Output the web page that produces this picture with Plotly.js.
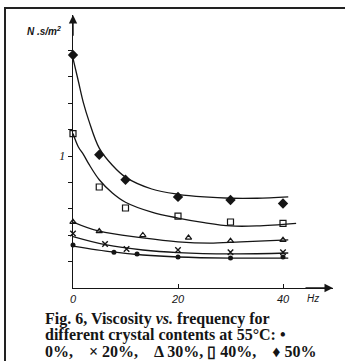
<!DOCTYPE html>
<html>
<head>
<meta charset="utf-8">
<script src="https://cdn.plot.ly/plotly-3.0.1.min.js"></script>
<style>
  html, body { margin:0; padding:0; background:#fff; width:345px; height:361px; overflow:hidden; }
  #chart { position:absolute; left:0; top:0; width:345px; height:361px; }
  #frame { position:absolute; left:4px; top:7px; width:400px; height:400px;
           border-top:2px solid #222; border-left:2px solid #222; pointer-events:none; }
</style>
</head>
<body>
<div id="chart"></div>
<div id="frame"></div>
<script>
// ---- measured data (frequency in Hz, viscosity in N.s/m^2) ----
const freq0  = [0, 7.8, 12.2, 20, 30, 40];
const visc0  = [0.326, 0.27, 0.257, 0.235, 0.227, 0.235];
const freq20 = [0, 6.1, 10.2, 20, 30, 40];
const visc20 = [0.413, 0.333, 0.295, 0.288, 0.27, 0.27];
const freq30 = [0, 5, 13.3, 22, 30, 40];
const visc30 = [0.50, 0.43, 0.40, 0.38, 0.356, 0.364];
const freq40 = [0, 5, 10, 20, 30, 40];
const visc40 = [1.17, 0.765, 0.606, 0.545, 0.50, 0.49];
const freq50 = [0, 5, 10, 20, 30, 40];
const visc50 = [1.765, 1.01, 0.82, 0.69, 0.667, 0.64];

// ---- fitted curves as drawn in the figure ----
const fit0x  = [0, 7.6, 13.3, 20, 30, 41];
const fit0y  = [0.318, 0.273, 0.25, 0.235, 0.227, 0.227];
const fit20x = [0, 6.4, 13.3, 20, 30, 41];
const fit20y = [0.39, 0.326, 0.288, 0.268, 0.258, 0.265];
const fit30x = [0, 5, 13.3, 20, 26, 32, 41];
const fit30y = [0.50, 0.43, 0.38, 0.35, 0.34, 0.35, 0.364];
const fit40x = [0, 1, 2, 3, 5, 7.5, 10, 15, 20, 25, 30, 35, 42.5];
const fit40y = [1.17, 1.07, 1.01, 0.94, 0.82, 0.72, 0.65, 0.575, 0.53, 0.495, 0.47, 0.47, 0.49];
const fit50x = [0, 1, 2, 3, 5, 7.5, 10, 15, 20, 25, 30, 35, 41];
const fit50y = [1.74, 1.57, 1.40, 1.27, 1.06, 0.93, 0.84, 0.75, 0.71, 0.69, 0.68, 0.68, 0.69];

// ---- tick labels ----
const xTickVals = [0, 20, 40];
const xTickText = ['0', '20', '40'];
const yTickVals = [0.2, 0.4, 0.6, 0.8, 1.0, 1.2, 1.4, 1.6, 1.8];
const yTickText = ['', '', '', '', '1', '', '', '', ''];

const captionLines = [
  '<b>Fig. 6, Viscosity <i>vs.</i> frequency for</b>',
  '<b>different crystal contents at 55°C: •</b>',
  '<b>0%, &nbsp;&nbsp;&nbsp;× 20%, &nbsp;&nbsp;&nbsp;Δ 30%, ▯ 40%, &nbsp;&nbsp;&nbsp;♦ 50%</b>'
];

const INK = '#151515';
const W = 345, H = 361;
const M = {l:73, r:12, t:15, b:73};
const PW = W - M.l - M.r, PH = H - M.t - M.b;
const px2x = p => (p - M.l) / PW;
const py2y = p => (H - M.b - p) / PH;

const lineTrace = (x, y) => ({x, y, mode:'lines', type:'scatter', hoverinfo:'skip',
  line:{color:INK, width:1.3, shape:'spline', smoothing:1}, showlegend:false});
const markTrace = (x, y, sym, size, lw) => ({x, y, mode:'markers', type:'scatter',
  marker:{symbol:sym, size:size, color:INK, line:{color:INK, width:lw}}, showlegend:false, cliponaxis:false});

const data = [
  lineTrace(fit0x, fit0y), lineTrace(fit20x, fit20y), lineTrace(fit30x, fit30y),
  lineTrace(fit40x, fit40y), lineTrace(fit50x, fit50y),
  markTrace(freq0, visc0, 'circle', 5, 0),
  markTrace(freq20, visc20, 'x-thin', 5.5, 1.4),
  markTrace(freq30, visc30, 'triangle-up-open', 5.5, 1.2),
  markTrace(freq40, visc40, 'square-open', 6, 1.2),
  markTrace(freq50, visc50, 'diamond', 8, 0)
];

const annotations = [
  // axis arrowheads
  {x:49.5, y:0, ax:44, ay:0, xref:'x', yref:'y', axref:'x', ayref:'y', text:'', showarrow:true,
   arrowhead:2, arrowsize:1.2, arrowwidth:1.4, arrowcolor:INK},
  {x:0, y:2.068, ax:0, ay:1.9, xref:'x', yref:'y', axref:'x', ayref:'y', text:'', showarrow:true,
   arrowhead:2, arrowsize:1.2, arrowwidth:1.4, arrowcolor:INK},
  {x:px2x(313), y:py2y(298), xref:'paper', yref:'paper', text:'Hz', showarrow:false,
   xanchor:'center', yanchor:'middle',
   font:{family:'Liberation Sans', size:10, style:'italic', color:INK}},
  {x:px2x(25), y:py2y(31), xref:'paper', yref:'paper', text:'N .s/m<sup>2</sup>', showarrow:false,
   xanchor:'left', yanchor:'middle',
   font:{family:'Liberation Sans', size:10, style:'italic', weight:'bold', color:INK}}
];
const capY = [319, 335, 351];
captionLines.forEach((t, i) => annotations.push({
  x:px2x(43), y:py2y(capY[i]), xref:'paper', yref:'paper', text:t, showarrow:false,
  xanchor:'left', yanchor:'middle',
  font:{family:'Liberation Serif', size:16, color:INK}
}));

const layout = {
  width:W, height:H, margin:M,
  paper_bgcolor:'rgba(0,0,0,0)', plot_bgcolor:'rgba(0,0,0,0)',
  showlegend:false,
  xaxis:{range:[0, PW/5.25], showgrid:false, zeroline:false, showline:true, linecolor:INK, linewidth:1.4,
    tickmode:'array', tickvals:xTickVals, ticktext:xTickText, ticks:'inside', ticklen:4, tickcolor:INK,
    tickfont:{family:'Liberation Sans', size:11, style:'italic', color:INK}, fixedrange:true},
  yaxis:{range:[0, PH/132], showgrid:false, zeroline:false, showline:true, linecolor:INK, linewidth:1.4,
    tickmode:'array', tickvals:yTickVals, ticktext:yTickText, ticks:'outside', ticklen:4, tickcolor:INK,
    tickfont:{family:'Liberation Serif', size:12, style:'italic', color:INK}, fixedrange:true},
  annotations
};

Plotly.newPlot('chart', data, layout, {staticPlot:true});
</script>
</body>
</html>
